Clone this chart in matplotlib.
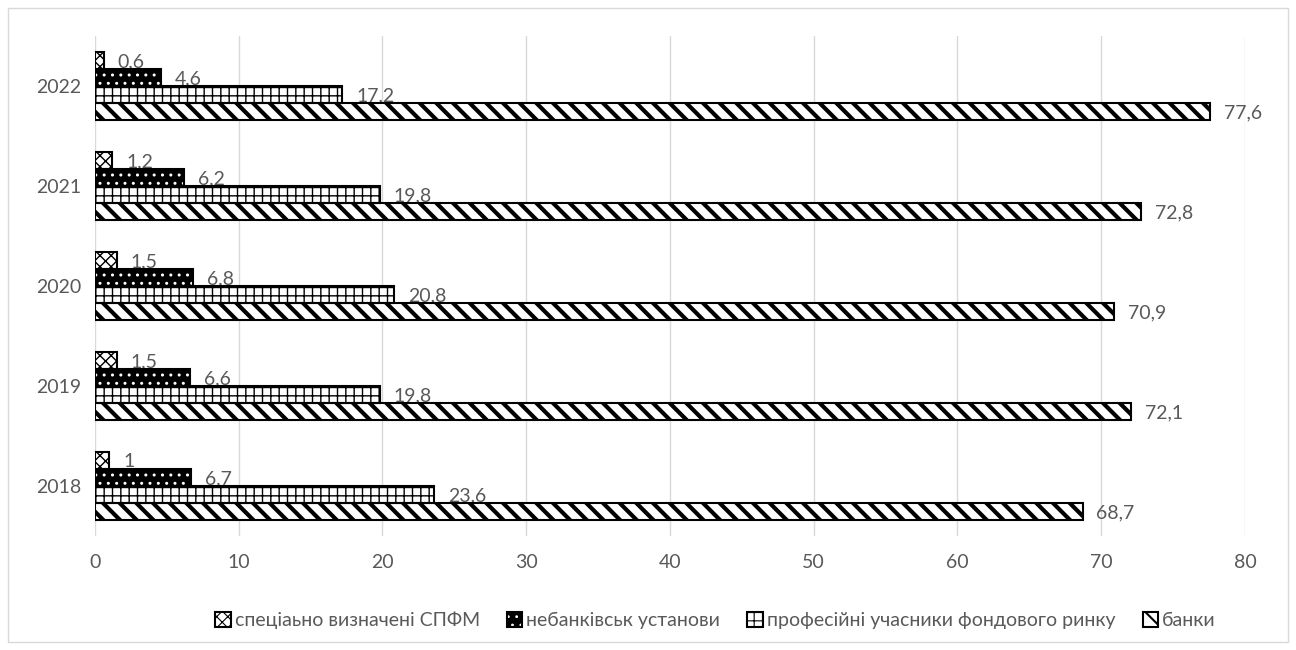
import matplotlib.pyplot as plt
import numpy as np
from matplotlib.patches import Rectangle

plt.rcParams['font.family'] = ['Lato', 'DejaVu Sans']
plt.rcParams['font.size'] = 14

YEARS = ['2018', '2019', '2020', '2021', '2022']
SERIES = ['спеціаьно визначені СПФМ', 'небанківськ установи',
          'професійні учасники фондового ринку', 'банки']
SPFM = [1, 1.5, 1.5, 1.2, 0.6]
NONBANK = [6.7, 6.6, 6.8, 6.2, 4.6]
PROF = [23.6, 19.8, 20.8, 19.8, 17.2]
BANKS = [68.7, 72.1, 70.9, 72.8, 77.6]

TEXT = '#595959'
GRID = '#d9d9d9'

fig = plt.figure(figsize=(12.96, 6.5), dpi=100)
ax = fig.add_axes([0.0733, 0.1754, 0.8873, 0.7692])

y = np.arange(len(YEARS))
h = 0.17
styles = [
    # (values, offset, facecolor, hatchcolor, hatch)
    (SPFM, 1.5, 'white', 'black', 'xxx'),
    (NONBANK, 0.5, 'black', 'white', '..'),
    (PROF, -0.5, 'white', 'black', '++'),
    (BANKS, -1.5, 'white', 'black', '\\\\'),
]

def hatch_lw(hatch):
    return 3.0 if hatch == '\\\\' else 1.0

handles = []
for vals, off, fc, hc, hatch in styles:
    plt.rcParams['hatch.linewidth'] = hatch_lw(hatch)
    ax.barh(y + off * h, vals, height=h, color=fc, edgecolor=hc,
            hatch=hatch, linewidth=0, zorder=3)
    # black outline drawn on top of the hatched fill
    ax.barh(y + off * h, vals, height=h, fill=False, edgecolor='black',
            linewidth=1.5, zorder=4)
    fill = Rectangle((0, 0), 1, 1, facecolor=fc, edgecolor=hc, hatch=hatch,
                     linewidth=0)
    edge = Rectangle((0, 0), 1, 1, fill=False, edgecolor='black', linewidth=1.5)
    handles.append((fill, edge))
    for yy, v in zip(y + off * h, vals):
        ax.annotate(f'{v:g}'.replace('.', ','), (v, yy), xytext=(10, -1),
                    textcoords='offset points', ha='left', va='center',
                    color=TEXT, fontsize=14)

ax.set_xlim(0, 80)
ax.set_ylim(-0.5, 4.5)
ax.set_xticks(range(0, 81, 10))
ax.set_yticks(y)
ax.set_yticklabels(YEARS)
ax.grid(axis='x', color=GRID, linewidth=1, zorder=0)
for s in ax.spines.values():
    s.set_visible(False)
ax.tick_params(length=0, colors=TEXT, labelsize=14)
ax.tick_params(axis='x', pad=13)
ax.tick_params(axis='y', pad=10)

plt.rcParams['hatch.linewidth'] = 1.0
leg = fig.legend(handles, SERIES, loc='center', bbox_to_anchor=(0.552, 0.046),
                 ncol=4, frameon=False, handlelength=0.8, handleheight=0.8,
                 handletextpad=0.2, columnspacing=1.4, fontsize=14)
for t in leg.get_texts():
    t.set_color(TEXT)
# legend copies of the hatched patches get the matching hatch width
for p in leg.findobj(Rectangle):
    if p.get_hatch() and hasattr(p, 'set_hatch_linewidth'):
        p.set_hatch_linewidth(1.5 if p.get_hatch() == '\\\\' else 0.8)

fig.add_artist(Rectangle((0.006, 0.012), 0.988, 0.976, transform=fig.transFigure,
                         fill=False, edgecolor=GRID, linewidth=1))

fig.savefig('out.png', dpi=100)
